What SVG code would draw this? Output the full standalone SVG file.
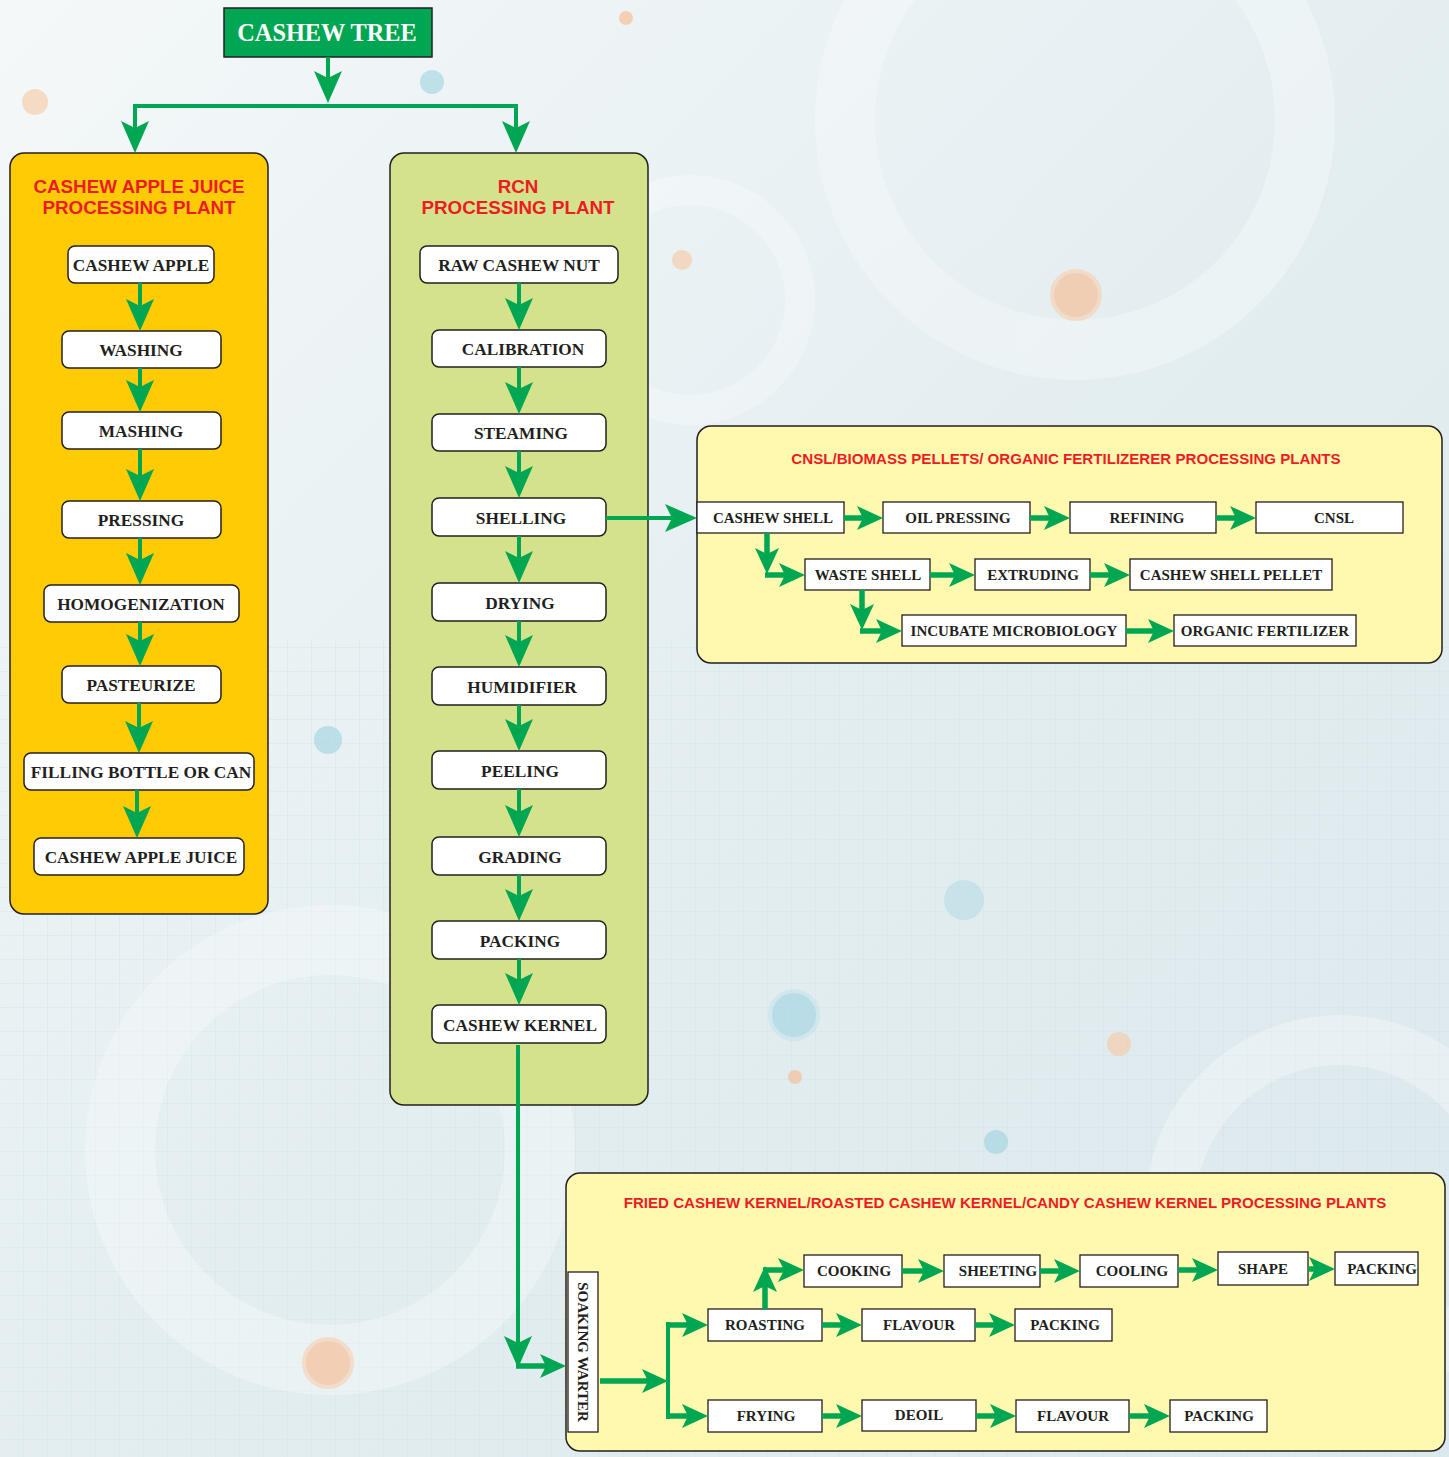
<svg xmlns="http://www.w3.org/2000/svg" width="1449" height="1457" viewBox="0 0 1449 1457">
<defs>
<linearGradient id="bg" x1="0" y1="0" x2="1" y2="1">
<stop offset="0" stop-color="#f4f8f9"/>
<stop offset="0.5" stop-color="#e4eef1"/>
<stop offset="1" stop-color="#dbe8ec"/>
</linearGradient>
<pattern id="grid" width="24" height="24" patternUnits="userSpaceOnUse">
<path d="M24,0 V24 M0,24 H24" fill="none" stroke="#c9dde2" stroke-width="1"/>
</pattern>
<marker id="ah" markerUnits="userSpaceOnUse" markerWidth="32" markerHeight="28" viewBox="0 0 32 28" refX="15" refY="14" orient="auto">
<path d="M0,0 L32,14 L0,28 L7,14 Z" fill="#00a651"/>
</marker>
<marker id="ahs" markerUnits="userSpaceOnUse" markerWidth="26" markerHeight="24" viewBox="0 0 26 24" refX="12" refY="12" orient="auto">
<path d="M0,0 L26,12 L0,24 L6,12 Z" fill="#00a651"/>
</marker>
</defs>
<style>
.panel{stroke:#231f20;stroke-width:1.5}
.rbox{fill:#fff;stroke:#231f20;stroke-width:1.5}
.sbox{fill:#fff;stroke:#231f20;stroke-width:1.3}
.bt{font-family:"Liberation Serif","Times New Roman",serif;font-weight:bold;font-size:17.3px;fill:#231f20;text-anchor:middle}
.st{font-family:"Liberation Serif","Times New Roman",serif;font-weight:bold;font-size:15px;fill:#231f20;text-anchor:middle}
.pt{font-family:"Liberation Sans",Arial,sans-serif;font-weight:bold;font-size:18.8px;fill:#ed1c24;text-anchor:middle}
.ht{font-family:"Liberation Sans",Arial,sans-serif;font-weight:bold;font-size:15.1px;fill:#ed1c24;text-anchor:middle}
.c{fill:none;stroke:#00a651;stroke-width:4;marker-end:url(#ah)}
.cs{fill:none;stroke:#00a651;stroke-width:5.5;marker-end:url(#ahs)}
.ln{fill:none;stroke:#00a651;stroke-width:4}
</style>
<rect x="0" y="0" width="1449" height="1457" fill="url(#bg)"/>
<rect x="0" y="640" width="1449" height="817" fill="url(#grid)" opacity="0.55"/>
<g fill="none" stroke="#ffffff" opacity="0.3">
<circle cx="1075" cy="120" r="230" stroke-width="60"/>
<circle cx="330" cy="1150" r="210" stroke-width="70"/>
<circle cx="1340" cy="1210" r="170" stroke-width="50"/>
<circle cx="690" cy="300" r="110" stroke-width="30"/>
</g>
<g opacity="0.6">
<circle cx="1076" cy="295" r="24" fill="#f7b98a" stroke="#f9cfae" stroke-width="4"/>
<circle cx="328" cy="1363" r="24" fill="#f7b98a" stroke="#f9cfae" stroke-width="4"/>
<circle cx="794" cy="1015" r="24" fill="#9fd3e0" stroke="#c3e4ec" stroke-width="4"/>
<circle cx="432" cy="82" r="12" fill="#9fd3e0"/>
<circle cx="35" cy="102" r="13" fill="#f7c8a0"/>
<circle cx="626" cy="18" r="7" fill="#f7b98a"/>
<circle cx="682" cy="260" r="10" fill="#f7c8a0"/>
<circle cx="328" cy="740" r="14" fill="#9fd3e0"/>
<circle cx="964" cy="900" r="20" fill="#b9dde6"/>
<circle cx="1119" cy="1044" r="12" fill="#f7c8a0"/>
<circle cx="795" cy="1077" r="7" fill="#f7b98a"/>
<circle cx="996" cy="1142" r="12" fill="#9fd3e0"/>
</g>

<g id="cashew-tree">
<rect x="224" y="8" width="208" height="49" fill="#00a651" stroke="#231f20" stroke-width="1.5"/>
<text x="327" y="41" font-family="Liberation Serif,'Times New Roman',serif" font-weight="bold" font-size="24.3" fill="#fff" text-anchor="middle">CASHEW TREE</text>
</g>

<g id="apple-panel">
<rect class="panel" x="10" y="153" width="258" height="761" rx="14" fill="#fecb05"/>
<text class="pt" x="139" y="193">CASHEW APPLE JUICE</text>
<text class="pt" x="139" y="214">PROCESSING PLANT</text>
</g>
<g id="a1"><rect class="rbox" x="68" y="246" width="146" height="37" rx="7"/><text class="bt" x="141" y="271">CASHEW APPLE</text></g>
<g id="a2"><rect class="rbox" x="62" y="331" width="159" height="37" rx="7"/><text class="bt" x="141" y="356">WASHING</text></g>
<g id="a3"><rect class="rbox" x="62" y="412" width="159" height="37" rx="7"/><text class="bt" x="141" y="437">MASHING</text></g>
<g id="a4"><rect class="rbox" x="62" y="501" width="159" height="37" rx="7"/><text class="bt" x="141" y="526">PRESSING</text></g>
<g id="a5"><rect class="rbox" x="44" y="585" width="195" height="37" rx="7"/><text class="bt" x="141" y="610">HOMOGENIZATION</text></g>
<g id="a6"><rect class="rbox" x="62" y="666" width="159" height="37" rx="7"/><text class="bt" x="141" y="691">PASTEURIZE</text></g>
<g id="a7"><rect class="rbox" x="24" y="753" width="230" height="37" rx="7"/><text class="bt" x="141" y="778">FILLING BOTTLE OR CAN</text></g>
<g id="a8"><rect class="rbox" x="34" y="838" width="210" height="37" rx="7"/><text class="bt" x="141" y="863">CASHEW APPLE JUICE</text></g>

<g id="rcn-panel">
<rect class="panel" x="390" y="153" width="258" height="952" rx="14" fill="#d3e28b"/>
<text class="pt" x="518" y="193">RCN</text>
<text class="pt" x="518" y="214">PROCESSING PLANT</text>
</g>
<g id="r1"><rect class="rbox" x="420" y="246" width="198" height="37" rx="7"/><text class="bt" x="519" y="271">RAW CASHEW NUT</text></g>
<g id="r2"><rect class="rbox" x="432" y="330" width="174" height="37" rx="7"/><text class="bt" x="523" y="355">CALIBRATION</text></g>
<g id="r3"><rect class="rbox" x="432" y="414" width="174" height="37" rx="7"/><text class="bt" x="521" y="439">STEAMING</text></g>
<g id="r4"><rect class="rbox" x="432" y="498" width="174" height="38" rx="7"/><text class="bt" x="521" y="524">SHELLING</text></g>
<g id="r5"><rect class="rbox" x="432" y="583" width="174" height="38" rx="7"/><text class="bt" x="520" y="609">DRYING</text></g>
<g id="r6"><rect class="rbox" x="432" y="667" width="174" height="38" rx="7"/><text class="bt" x="522" y="693">HUMIDIFIER</text></g>
<g id="r7"><rect class="rbox" x="432" y="751" width="174" height="38" rx="7"/><text class="bt" x="520" y="777">PEELING</text></g>
<g id="r8"><rect class="rbox" x="432" y="837" width="174" height="38" rx="7"/><text class="bt" x="520" y="863">GRADING</text></g>
<g id="r9"><rect class="rbox" x="432" y="921" width="174" height="38" rx="7"/><text class="bt" x="520" y="947">PACKING</text></g>
<g id="r10"><rect class="rbox" x="432" y="1005" width="174" height="38" rx="7"/><text class="bt" x="520" y="1031">CASHEW KERNEL</text></g>

<g id="cnsl-panel">
<rect class="panel" x="697" y="426" width="745" height="237" rx="14" fill="#fff9b0"/>
<text class="ht" x="1066" y="464">CNSL/BIOMASS PELLETS/ ORGANIC FERTILIZERER PROCESSING PLANTS</text>
</g>
<g id="n1"><rect class="sbox" x="697" y="502" width="147" height="31"/><text class="st" x="773" y="523">CASHEW SHELL</text></g>
<g id="n2"><rect class="sbox" x="883" y="502" width="147" height="31"/><text class="st" x="958" y="523">OIL PRESSING</text></g>
<g id="n3"><rect class="sbox" x="1070" y="502" width="146" height="31"/><text class="st" x="1147" y="523">REFINING</text></g>
<g id="n4"><rect class="sbox" x="1256" y="502" width="147" height="31"/><text class="st" x="1334" y="523">CNSL</text></g>
<g id="n5"><rect class="sbox" x="805" y="559" width="125" height="31"/><text class="st" x="868" y="580">WASTE SHELL</text></g>
<g id="n6"><rect class="sbox" x="975" y="559" width="115" height="31"/><text class="st" x="1033" y="580">EXTRUDING</text></g>
<g id="n7"><rect class="sbox" x="1130" y="559" width="202" height="31"/><text class="st" x="1231" y="580">CASHEW SHELL PELLET</text></g>
<g id="n8"><rect class="sbox" x="902" y="615" width="224" height="31"/><text class="st" x="1014" y="636">INCUBATE MICROBIOLOGY</text></g>
<g id="n9"><rect class="sbox" x="1174" y="615" width="182" height="31"/><text class="st" x="1265" y="636">ORGANIC FERTILIZER</text></g>

<g id="kernel-panel">
<rect class="panel" x="566" y="1173" width="879" height="278" rx="14" fill="#fff9b0"/>
<text class="ht" x="1005" y="1208">FRIED CASHEW KERNEL/ROASTED CASHEW KERNEL/CANDY CASHEW KERNEL  PROCESSING PLANTS</text>
</g>
<g id="k0"><rect class="sbox" x="568" y="1272" width="30" height="160"/><text class="st" transform="translate(578,1352) rotate(90)">SOAKING WARTER</text></g>
<g id="k1"><rect class="sbox" x="708" y="1309" width="114" height="32"/><text class="st" x="765" y="1330">ROASTING</text></g>
<g id="k2"><rect class="sbox" x="862" y="1309" width="113" height="32"/><text class="st" x="919" y="1330">FLAVOUR</text></g>
<g id="k3"><rect class="sbox" x="1015" y="1309" width="97" height="32"/><text class="st" x="1065" y="1330">PACKING</text></g>
<g id="k4"><rect class="sbox" x="804" y="1255" width="98" height="32"/><text class="st" x="854" y="1276">COOKING</text></g>
<g id="k5"><rect class="sbox" x="944" y="1255" width="96" height="32"/><text class="st" x="998" y="1276">SHEETING</text></g>
<g id="k6"><rect class="sbox" x="1080" y="1255" width="98" height="32"/><text class="st" x="1132" y="1276">COOLING</text></g>
<g id="k7"><rect class="sbox" x="1218" y="1252" width="90" height="33"/><text class="st" x="1263" y="1274">SHAPE</text></g>
<g id="k8"><rect class="sbox" x="1335" y="1252" width="83" height="33"/><text class="st" x="1382" y="1274">PACKING</text></g>
<g id="k9"><rect class="sbox" x="708" y="1400" width="114" height="32"/><text class="st" x="766" y="1421">FRYING</text></g>
<g id="k10"><rect class="sbox" x="862" y="1400" width="114" height="31"/><text class="st" x="919" y="1420">DEOIL</text></g>
<g id="k11"><rect class="sbox" x="1016" y="1400" width="113" height="32"/><text class="st" x="1073" y="1421">FLAVOUR</text></g>
<g id="k12"><rect class="sbox" x="1170" y="1400" width="97" height="32"/><text class="st" x="1219" y="1421">PACKING</text></g>

<g id="connectors">
<path class="c" d="M328,57 V86"/>
<path class="ln" d="M133,106 H518"/>
<path class="c" d="M135,104 V136"/>
<path class="c" d="M516,104 V136"/>
<path class="c" d="M140,283 V314"/>
<path class="c" d="M140,368 V395"/>
<path class="c" d="M140,449 V484"/>
<path class="c" d="M140,538 V568"/>
<path class="c" d="M140,622 V649"/>
<path class="c" d="M139,703 V736"/>
<path class="c" d="M137,790 V821"/>
<path class="c" d="M519,283 V313"/>
<path class="c" d="M519,367 V397"/>
<path class="c" d="M519,451 V481"/>
<path class="c" d="M519,536 V566"/>
<path class="c" d="M519,621 V650"/>
<path class="c" d="M519,705 V734"/>
<path class="c" d="M519,789 V820"/>
<path class="c" d="M519,875 V904"/>
<path class="c" d="M519,959 V988"/>
<path class="c" d="M606,518 H680"/>
<path class="cs" d="M844,518 H869"/>
<path class="cs" d="M1030,518 H1056"/>
<path class="cs" d="M1216,518 H1242"/>
<path class="cs" d="M767,533 V560"/>
<path class="cs" d="M765,575 H791"/>
<path class="cs" d="M930,575 H961"/>
<path class="cs" d="M1090,575 H1116"/>
<path class="cs" d="M862,590 V616"/>
<path class="cs" d="M860,631 H888"/>
<path class="cs" d="M1126,631 H1160"/>
<path class="c" d="M518,1045 V1351"/>
<path class="cs" d="M516,1366 H552"/>
<path class="cs" d="M600,1381 H654"/>
<path class="ln" d="M668,1322 V1419" stroke-width="5"/>
<path class="cs" d="M666,1325 H694"/>
<path class="cs" d="M666,1416 H694"/>
<path class="cs" d="M822,1325 H848"/>
<path class="cs" d="M975,1325 H1001"/>
<path class="cs" d="M765,1309 V1280"/>
<path class="cs" d="M763,1270 H790"/>
<path class="cs" d="M902,1271 H930"/>
<path class="cs" d="M1040,1271 H1066"/>
<path class="cs" d="M1178,1270 H1204"/>
<path class="cs" d="M1308,1269 H1321"/>
<path class="cs" d="M822,1416 H848"/>
<path class="cs" d="M976,1416 H1002"/>
<path class="cs" d="M1129,1416 H1156"/>
</g>
</svg>
